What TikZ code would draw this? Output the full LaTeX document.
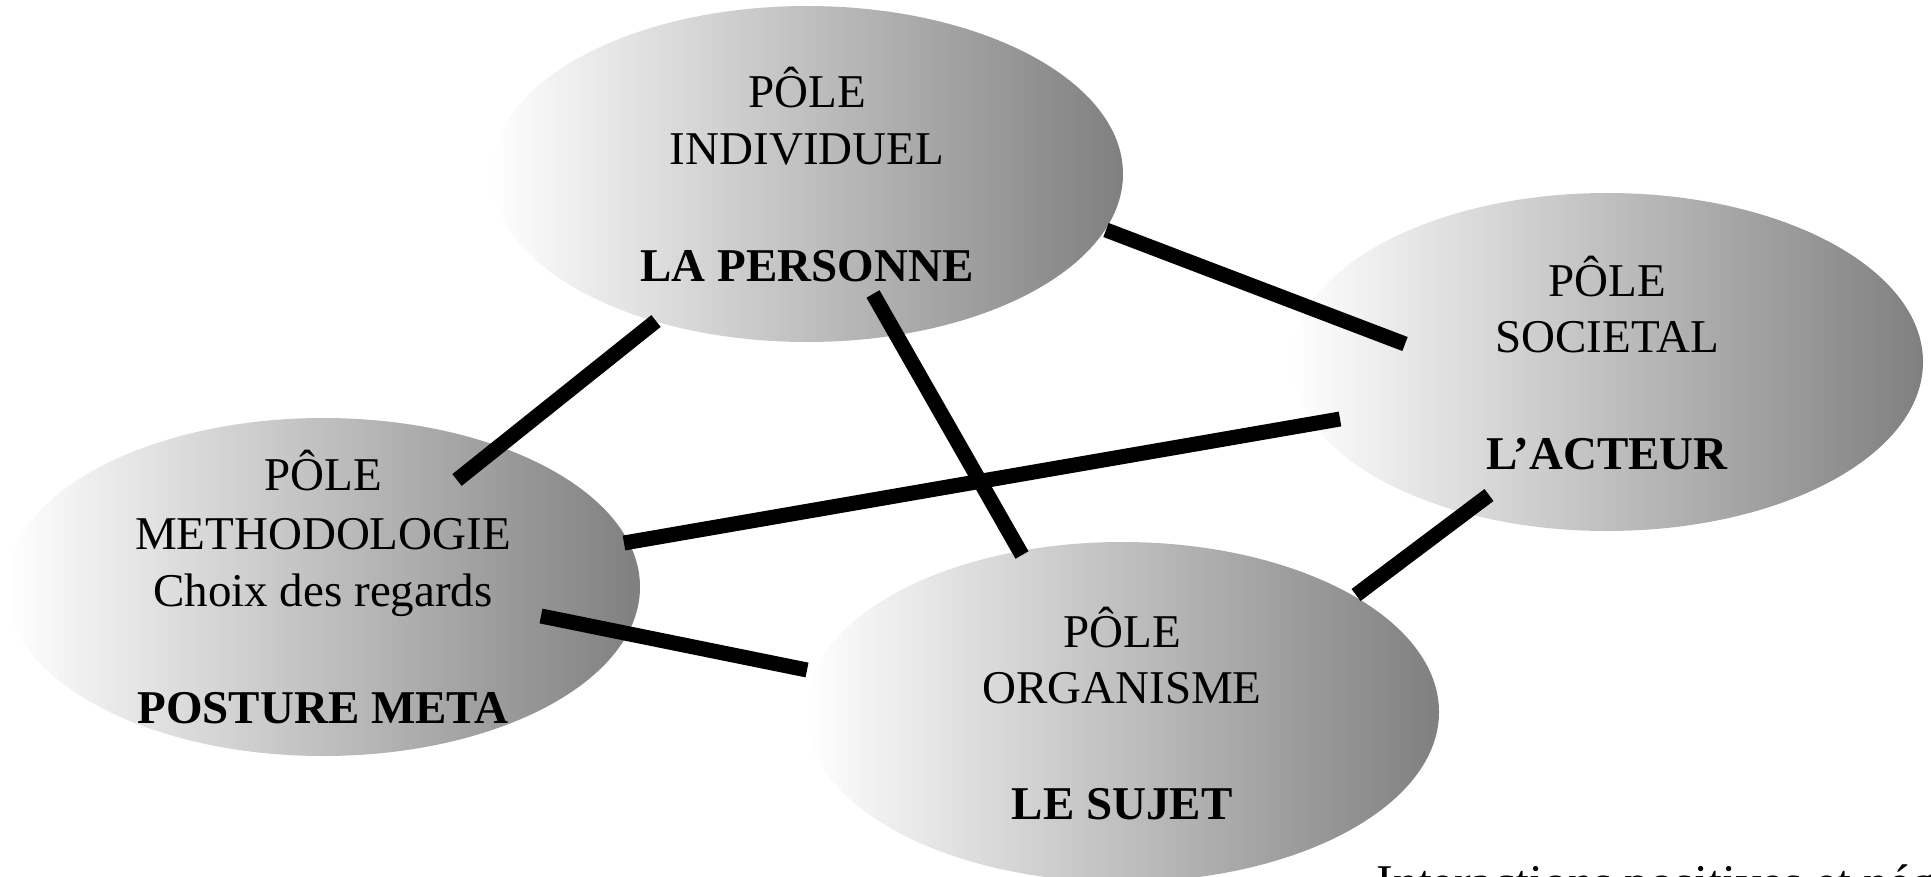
\documentclass[tikz,border=0pt]{standalone}
\usepackage{fontspec}
\setmainfont{Liberation Serif}
\usetikzlibrary{shapes.geometric}
\tikzset{
  pole/.style={ellipse, inner sep=0pt, left color=white, right color=black!50},
  txt/.style={anchor=base, inner sep=0pt, font=\fontsize{23.5}{28}\selectfont},
  btxt/.style={anchor=base, inner sep=0pt, font=\fontsize{23.5}{28}\selectfont\bfseries},
  link/.style={line width=7.5pt, line cap=butt}
}
\begin{document}
\begin{tikzpicture}[x=0.5pt,y=-0.5pt]
\useasboundingbox (0,0) rectangle (1931,877);
% ellipses
\node[pole, minimum width=316pt, minimum height=168pt] (ind) at (807,174) {};
\node[pole, minimum width=316pt, minimum height=169pt] (soc) at (1607,362) {};
\node[pole, minimum width=317pt, minimum height=169pt] (met) at (323,587) {};
\node[pole, minimum width=317pt, minimum height=170pt] (org) at (1122,712) {};
% texts
\node[txt]  (ind1) at (807,108) {PÔLE};
\node[txt]  (ind2) at (807,165) {INDIVIDUEL};
\node[btxt] (ind3) at (807,281) {LA PERSONNE};
\node[txt]  (soc1) at (1607,296) {PÔLE};
\node[txt]  (soc2) at (1607,352) {SOCIETAL};
\node[btxt] (soc3) at (1607,469) {L’ACTEUR};
\node[txt]  (met1) at (323,490) {PÔLE};
\node[txt]  (met2) at (323,549) {METHODOLOGIE};
\node[txt]  (met3) at (323,606) {Choix des regards};
\node[btxt] (met4) at (323,723) {POSTURE META};
\node[txt]  (org1) at (1122,647) {PÔLE};
\node[txt]  (org2) at (1122,703) {ORGANISME};
\node[btxt] (org3) at (1122,819) {LE SUJET};
\node[anchor=base west, inner sep=0pt, font=\fontsize{25}{30}\selectfont] (note) at (1376,899) {Interactions positives et négatives};
% connector end points
\coordinate (a1) at (1106,230); \coordinate (b1) at (1405,344);
\coordinate (a2) at (656,321);  \coordinate (b2) at (457,480);
\coordinate (a3) at (873,294);  \coordinate (b3) at (1022,555);
\coordinate (a4) at (1340,419); \coordinate (b4) at (624,543);
\coordinate (a5) at (1489,495); \coordinate (b5) at (1356,595);
\coordinate (a6) at (541,616);  \coordinate (b6) at (807,670);
\draw[link] (a1) -- (b1);
\draw[link] (a2) -- (b2);
\draw[link] (a3) -- (b3);
\draw[link] (a4) -- (b4);
\draw[link] (a5) -- (b5);
\draw[link] (a6) -- (b6);
\end{tikzpicture}
\end{document}
